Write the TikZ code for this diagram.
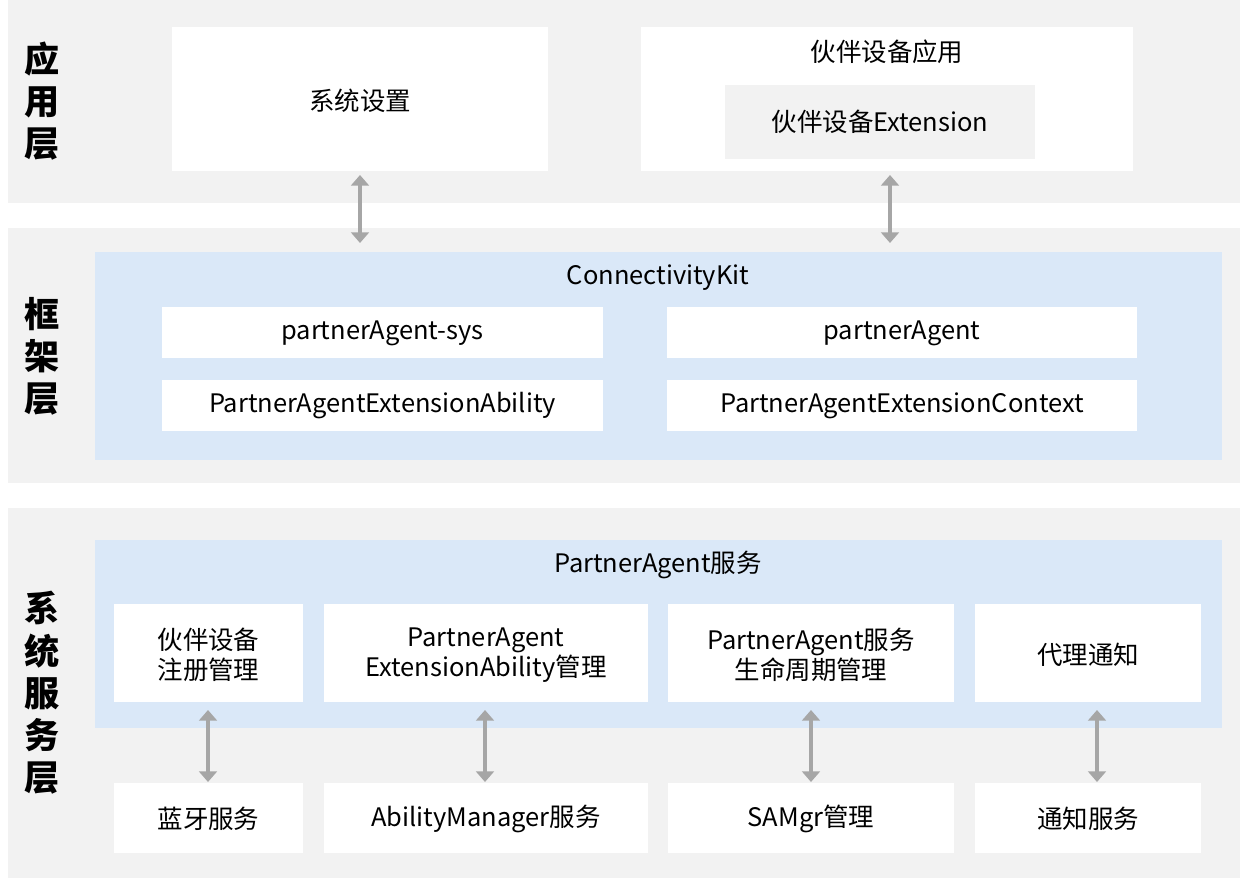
\documentclass[tikz,border=0pt]{standalone}
\usepackage{fontspec}
\setmainfont{Noto Sans CJK SC}
\usetikzlibrary{arrows.meta,positioning}
\definecolor{bandgray}{HTML}{F2F2F2}
\definecolor{kitblue}{HTML}{DAE8F8}
\definecolor{arrowgray}{HTML}{A6A6A6}

\begin{document}
\begin{tikzpicture}[x=0.02cm, y=-0.02cm,
    band/.style={fill=bandgray, draw=none},
    panel/.style={fill=kitblue, draw=none},
    wbox/.style={fill=white, draw=none},
    txt/.style={font=\fontsize{14.5}{17}\selectfont, align=center, inner sep=0pt},
    layer/.style={font=\fontsize{20}{24}\bfseries\selectfont, align=center, inner sep=0pt},
    link/.style={{Triangle[width=10pt,length=6pt]}-{Triangle[width=10pt,length=6pt]}, line width=2.6pt, draw=arrowgray}
]
    \useasboundingbox (0,0) rectangle (1240,878);
    % bands
    \fill[band] (8,0) rectangle (1240,203);
    \fill[band] (8,228) rectangle (1240,483);
    \fill[band] (8,508) rectangle (1240,878);
    \node[layer] (applayer) at (42,101) {应\\用\\层};
    \node[layer] (fwlayer) at (42,356) {框\\架\\层};
    \node[layer] (syslayer) at (42,693) {系\\统\\服\\务\\层};

    % app layer
    \fill[wbox] (172,27) rectangle (548,171);
    \node[txt] (settings) at (360,101) {系统设置};
    \fill[wbox] (641,27) rectangle (1133,171);
    \node[txt] (partnerapp) at (887,52) {伙伴设备应用};
    \fill[band] (725,85) rectangle (1035,159);
    \node[txt] (partnerext) at (880,122) {伙伴设备Extension};

    % framework layer
    \fill[panel] (95,252) rectangle (1222,460);
    \node[txt] (kit) at (658,278) {ConnectivityKit};
    \foreach \x/\X/\r/\t/\n in {162/603/307/partnerAgent-sys/k1, 667/1137/307/partnerAgent/k2,
        162/603/380/PartnerAgentExtensionAbility/k3, 667/1137/380/PartnerAgentExtensionContext/k4}{
        \fill[wbox] (\x,\r) rectangle (\X,\r+51);
        \node[txt] (\n) at ({(\x+\X)/2},\r+26) {\t};
    }
    \coordinate (kitA) at (360,243);
    \coordinate (kitB) at (890,243);
    \coordinate (appA) at (360,175);
    \coordinate (appB) at (890,175);
    \draw[link] (appA) -- (kitA);
    \draw[link] (appB) -- (kitB);

    % system service layer
    \fill[panel] (95,540) rectangle (1222,728);
    \node[txt] (service) at (658,565) {PartnerAgent服务};
    \foreach \x/\X/\t/\b/\n in {114/303/{伙伴设备\\注册管理}/蓝牙服务/a,
        324/648/{PartnerAgent\\ExtensionAbility管理}/AbilityManager服务/b,
        668/954/{PartnerAgent服务\\生命周期管理}/SAMgr管理/c,
        975/1201/代理通知/通知服务/d}{
        \fill[wbox] (\x,604) rectangle (\X,702);
        \node[txt] (svc\n) at ({(\x+\X)/2},655) {\t};
        \fill[wbox] (\x,783) rectangle (\X,853);
        \node[txt] (dep\n) at ({(\x+\X)/2},819) {\b};
    }
    \foreach \n/\xx in {a/208, b/485, c/811, d/1097}{
        \coordinate (s\n) at (\xx,710);
        \coordinate (e\n) at (\xx,782);
        \draw[link] (s\n) -- (e\n);
    }
\end{tikzpicture}
\end{document}
